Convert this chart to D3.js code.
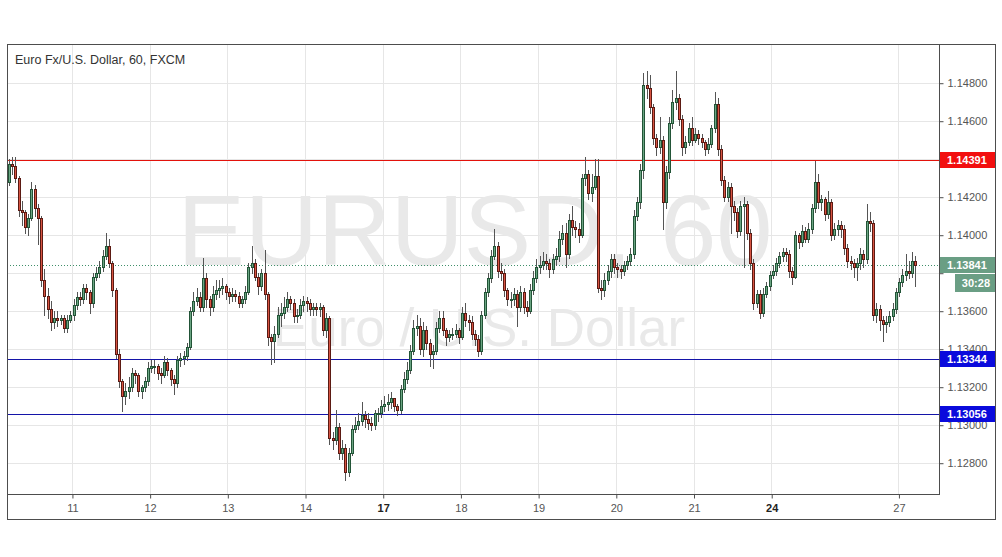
<!DOCTYPE html>
<html><head><meta charset="utf-8">
<script src="https://cdn.jsdelivr.net/npm/d3@7"></script>
<style>html,body{margin:0;padding:0;background:#fff;} svg{display:block;}</style>
</head><body>
<svg id="chart" width="1002" height="557"></svg>
<script>
// ---------------- DATA (prices in units of 0.0001) ----------------
const title = "Euro Fx/U.S. Dollar, 60, FXCM";
const watermarkSymbol = "EURUSD, 60";
const watermarkName = "Euro / U.S. Dollar";
const firstOpen = 11428;
const closes = [
11437,11436,11430,11413,11412,11404,11409,11424,11414,11409,
11376,11368,11361,11354,11356,11355,11356,11351,11355,11358,
11363,11367,11366,11372,11370,11364,11378,11380,11383,11389,
11394,11385,11371,11337,11323,11315,11318,11320,11327,11326,
11318,11320,11323,11330,11331,11331,11327,11326,11333,11329,
11324,11322,11334,11335,11336,11341,11360,11365,11367,11362,
11377,11366,11362,11369,11371,11372,11373,11370,11368,11369,
11368,11364,11366,11370,11383,11385,11378,11373,11380,11369,
11346,11344,11348,11358,11359,11362,11366,11364,11357,11358,
11363,11365,11364,11361,11362,11361,11362,11350,11356,11293,
11292,11299,11285,11288,11275,11285,11298,11300,11302,11305,
11303,11301,11300,11306,11306,11310,11311,11312,11314,11310,
11308,11319,11324,11329,11339,11351,11352,11340,11350,11343,
11337,11339,11351,11356,11350,11346,11348,11348,11350,11346,
11359,11355,11354,11348,11345,11339,11358,11370,11377,11389,
11394,11381,11380,11371,11366,11366,11369,11362,11370,11362,
11360,11371,11377,11383,11384,11386,11385,11382,11387,11389,
11398,11401,11390,11408,11404,11403,11400,11430,11432,11422,
11425,11431,11372,11371,11376,11381,11387,11383,11382,11381,
11384,11386,11390,11410,11417,11434,11479,11477,11467,11451,
11446,11450,11417,11433,11459,11470,11472,11461,11446,11449,
11456,11450,11453,11451,11449,11445,11448,11456,11469,11445,
11429,11420,11425,11415,11412,11402,11415,11416,11401,11385,
11364,11369,11359,11369,11373,11379,11381,11385,11389,11391,
11390,11381,11378,11400,11396,11402,11398,11403,11414,11428,
11417,11419,11411,11417,11400,11403,11405,11403,11393,11386,
11385,11383,11385,11390,11387,11407,11406,11358,11361,11355,
11353,11354,11357,11361,11370,11375,11379,11381,11380,11386,11384];
const highs = [
11440,11441,11441,11431,11418,11413,11411,11428,11426,11416,
11410,11382,11372,11365,11360,11360,11358,11358,11358,11360,
11366,11370,11370,11374,11374,11371,11380,11383,11386,11392,
11401,11398,11386,11372,11340,11324,11322,11325,11330,11329,
11327,11321,11325,11333,11334,11334,11332,11330,11336,11335,
11330,11326,11336,11338,11339,11343,11362,11370,11372,11370,
11388,11380,11368,11373,11376,11376,11377,11374,11372,11372,
11371,11370,11368,11373,11385,11394,11387,11380,11382,11392,
11370,11348,11352,11362,11364,11367,11370,11368,11366,11361,
11366,11368,11367,11366,11364,11364,11364,11363,11359,11357,
11296,11308,11301,11292,11290,11288,11300,11304,11306,11312,
11307,11306,11304,11308,11309,11313,11315,11316,11317,11314,
11311,11321,11328,11333,11342,11355,11358,11356,11354,11352,
11345,11342,11354,11360,11360,11351,11350,11351,11353,11351,
11362,11364,11358,11357,11350,11347,11360,11372,11380,11392,
11403,11396,11385,11382,11372,11370,11372,11371,11373,11372,
11365,11374,11381,11387,11389,11391,11390,11387,11390,11393,
11402,11405,11406,11411,11415,11407,11406,11432,11441,11434,
11432,11440,11440,11376,11380,11384,11390,11390,11385,11384,
11386,11389,11393,11413,11420,11437,11485,11486,11484,11469,
11453,11462,11452,11436,11462,11476,11486,11474,11463,11452,
11459,11462,11456,11455,11453,11450,11451,11458,11475,11472,
11447,11431,11428,11427,11418,11414,11418,11420,11418,11403,
11387,11371,11371,11372,11375,11381,11384,11388,11391,11393,
11393,11392,11383,11402,11401,11405,11404,11406,11416,11439,
11432,11421,11420,11423,11419,11406,11408,11407,11405,11395,
11389,11387,11388,11393,11392,11416,11412,11408,11364,11363,
11357,11357,11360,11364,11372,11377,11382,11390,11386,11391,11389];
const lows = [
11426,11432,11428,11410,11405,11401,11400,11408,11410,11395,
11373,11358,11356,11350,11351,11352,11353,11349,11349,11354,
11355,11361,11363,11364,11366,11359,11362,11376,11378,11381,
11387,11383,11368,11335,11320,11307,11311,11314,11318,11322,
11315,11314,11318,11321,11328,11327,11324,11322,11325,11326,
11321,11316,11320,11331,11332,11334,11340,11358,11363,11360,
11360,11362,11358,11360,11366,11367,11369,11366,11364,11365,
11365,11362,11362,11364,11369,11380,11376,11369,11371,11366,
11342,11332,11333,11346,11352,11356,11360,11361,11354,11354,
11356,11360,11360,11358,11358,11358,11357,11347,11346,11290,
11287,11290,11282,11282,11271,11273,11284,11296,11298,11300,
11299,11298,11297,11298,11302,11304,11307,11308,11309,11307,
11305,11306,11317,11322,11327,11337,11347,11337,11336,11340,
11331,11330,11337,11349,11347,11342,11344,11345,11346,11343,
11345,11352,11350,11345,11342,11336,11337,11356,11368,11375,
11387,11378,11376,11368,11363,11362,11363,11352,11360,11359,
11357,11359,11369,11375,11380,11382,11382,11378,11380,11384,
11386,11395,11383,11388,11400,11399,11396,11399,11426,11419,
11418,11424,11370,11366,11368,11374,11378,11380,11378,11377,
11379,11382,11384,11388,11408,11414,11430,11472,11464,11448,
11442,11443,11403,11414,11430,11456,11466,11458,11442,11443,
11447,11447,11449,11448,11446,11442,11443,11446,11454,11442,
11426,11418,11418,11401,11408,11399,11400,11383,11398,11382,
11361,11362,11356,11357,11367,11371,11377,11379,11383,11386,
11386,11378,11374,11377,11393,11394,11396,11396,11401,11412,
11414,11413,11408,11409,11397,11398,11400,11399,11390,11383,
11382,11378,11376,11382,11383,11385,11402,11355,11354,11350,
11344,11349,11352,11355,11359,11368,11373,11376,11377,11378,11373];
const priceTicks = [1.128, 1.130, 1.132, 1.134, 1.136, 1.138, 1.140, 1.142, 1.144, 1.146, 1.148];
const dayLabels = ["11","12","13","14","17","18","19","20","21","24","27"];
const dayStartIndex = [19.5, 43.5, 67.5, 91.5, 115.5, 139.5, 163.5, 187.5, 211.5, 235.5, 274.8];
const weekStartLabels = ["17","24"];
const resistance = 1.14391;
const supports = [1.13344, 1.13056];
const lastPrice = 1.13841;
const countdown = "30:28";

// ---------------- BUILD ----------------
const PIP = 1e-4;
const candles = closes.map((c, i) => {
  const o = i === 0 ? firstOpen : closes[i - 1];
  return { i, o: o * PIP, c: c * PIP, h: Math.max(highs[i], o, c) * PIP, l: Math.min(lows[i], o, c) * PIP };
});

const plot = { left: 7, top: 44, right: 939, bottom: 494 };
const outer = { right: 995, bottom: 519 };

const x = d3.scaleLinear().domain([-0.556, 287.33]).range([plot.left, plot.right]);
const y = d3.scaleLinear().domain([1.126353, 1.150037]).range([plot.bottom, plot.top]);

const svg = d3.select("#chart");
const font = "'Liberation Sans', Arial, sans-serif";

svg.append("defs").append("clipPath").attr("id", "plotClip")
  .append("rect").attr("x", plot.left).attr("y", plot.top)
  .attr("width", plot.right - plot.left).attr("height", plot.bottom - plot.top);

// grid
const grid = svg.append("g");
grid.selectAll("line.h").data(priceTicks).join("line")
  .attr("x1", plot.left).attr("x2", plot.right)
  .attr("y1", d => Math.round(y(d)) + 0.5).attr("y2", d => Math.round(y(d)) + 0.5)
  .attr("stroke", "#e6e6e6").attr("stroke-width", 1);
grid.selectAll("line.v").data(dayStartIndex).join("line")
  .attr("x1", d => Math.round(x(d)) + 0.5).attr("x2", d => Math.round(x(d)) + 0.5)
  .attr("y1", plot.top).attr("y2", plot.bottom)
  .attr("stroke", "#e6e6e6").attr("stroke-width", 1);

// watermark
const cx = (plot.left + plot.right) / 2 + 2;
svg.append("text").attr("x", cx).attr("y", 265).attr("text-anchor", "middle")
  .attr("font-family", font).attr("font-size", 101).attr("fill", "#e9e9e9")
  .text(watermarkSymbol);
svg.append("text").attr("x", cx + 4).attr("y", 346).attr("text-anchor", "middle")
  .attr("font-family", font).attr("font-size", 53).attr("fill", "#e9e9e9")
  .text(watermarkName);

// horizontal levels
const levels = svg.append("g").attr("clip-path", "url(#plotClip)");
levels.append("line")
  .attr("x1", plot.left).attr("x2", plot.right)
  .attr("y1", Math.round(y(resistance)) + 0.5).attr("y2", Math.round(y(resistance)) + 0.5)
  .attr("stroke", "#e3120b").attr("stroke-width", 1);
levels.selectAll("line.s").data(supports).join("line")
  .attr("x1", plot.left).attr("x2", plot.right)
  .attr("y1", d => Math.round(y(d)) + 0.5).attr("y2", d => Math.round(y(d)) + 0.5)
  .attr("stroke", "#1414a8").attr("stroke-width", 1);
levels.append("line")
  .attr("x1", plot.left).attr("x2", plot.right)
  .attr("y1", Math.round(y(lastPrice)) + 0.5).attr("y2", Math.round(y(lastPrice)) + 0.5)
  .attr("stroke", "#3f8f6a").attr("stroke-width", 1).attr("stroke-dasharray", "1,2");

// candles
const cg = svg.append("g").attr("clip-path", "url(#plotClip)");
const upFill = "#6ba583", upBorder = "#225437", dnFill = "#d75442", dnBorder = "#5b1a13", wickCol = "#555";
const cs = cg.selectAll("g.c").data(candles).join("g");
cs.append("line")
  .attr("x1", d => Math.round(x(d.i)) + 0.5).attr("x2", d => Math.round(x(d.i)) + 0.5)
  .attr("y1", d => Math.round(y(d.h))).attr("y2", d => Math.round(y(d.l)) + 1)
  .attr("stroke", wickCol).attr("stroke-width", 1);
cs.each(function(d) {
  const g = d3.select(this);
  const up = d.c >= d.o;
  const top = Math.round(y(Math.max(d.o, d.c)));
  const bot = Math.round(y(Math.min(d.o, d.c)));
  const h = Math.max(2, bot - top + 1);
  const px = Math.round(x(d.i)) - 1;
  g.append("rect").attr("x", px).attr("y", top).attr("width", 3).attr("height", h)
    .attr("fill", up ? upBorder : dnBorder);
  if (h > 2) g.append("rect").attr("x", px + 1).attr("y", top + 1).attr("width", 1).attr("height", h - 2)
    .attr("fill", up ? upFill : dnFill);
});

// frame
const frame = svg.append("g").attr("fill", "none").attr("stroke", "#4d4d4d").attr("stroke-width", 1);
frame.append("rect").attr("x", plot.left + 0.5).attr("y", plot.top + 0.5)
  .attr("width", outer.right - plot.left).attr("height", outer.bottom - plot.top);
frame.append("line").attr("x1", plot.left).attr("x2", plot.right + 1)
  .attr("y1", plot.bottom + 0.5).attr("y2", plot.bottom + 0.5);
frame.append("line").attr("x1", plot.right + 0.5).attr("x2", plot.right + 0.5)
  .attr("y1", plot.top).attr("y2", plot.bottom + 1);

// right axis (labels fully covered by a price box are not drawn, as in the reference)
const boxLevels = [resistance, lastPrice, ...supports];
const covered = v => boxLevels.some(b => Math.abs(y(b) - y(v)) < 9);
const yAxis = d3.axisRight(y).tickValues(priceTicks).tickSize(4).tickPadding(4)
  .tickFormat(d => covered(d) ? "" : d3.format(".5f")(d));
const ya = svg.append("g").attr("transform", `translate(${plot.right + 0.5},0.5)`).call(yAxis);
ya.select(".domain").remove();
ya.selectAll("line").attr("stroke", "#4d4d4d");
ya.selectAll("text").attr("font-family", font).attr("font-size", 11).attr("fill", "#555");

// bottom axis
const xAxis = d3.axisBottom(x).tickValues(dayStartIndex).tickSize(4).tickPadding(6)
  .tickFormat((d, i) => dayLabels[i]);
const xa = svg.append("g").attr("transform", `translate(0.5,${plot.bottom + 0.5})`).call(xAxis);
xa.select(".domain").remove();
xa.selectAll("line").attr("stroke", "#4d4d4d");
xa.selectAll("text").attr("font-family", font).attr("font-size", 11)
  .attr("fill", (d, i) => weekStartLabels.includes(dayLabels[i]) ? "#222" : "#555")
  .attr("font-weight", (d, i) => weekStartLabels.includes(dayLabels[i]) ? "bold" : "normal");

// title
svg.append("text").attr("x", 15).attr("y", 64).attr("font-family", font)
  .attr("font-size", 12.5).attr("fill", "#333").text(title);

// price boxes
function box(v, fill, label) {
  const cy = Math.round(y(v));
  svg.append("rect").attr("x", plot.right + 1).attr("y", cy - 8).attr("width", outer.right - plot.right - 1)
    .attr("height", 16).attr("fill", fill);
  svg.append("text").attr("x", plot.right + 8).attr("y", cy + 4).attr("font-family", font)
    .attr("font-size", 11).attr("font-weight", "bold").attr("fill", "#fff").text(label);
}
box(resistance, "#f20f0f", d3.format(".5f")(resistance));
supports.forEach(s => box(s, "#0a0adc", d3.format(".5f")(s)));
box(lastPrice, "#6a9e84", d3.format(".5f")(lastPrice));
const ly = Math.round(y(lastPrice));
svg.append("rect").attr("x", 955).attr("y", ly + 9).attr("width", outer.right - 955).attr("height", 18)
  .attr("fill", "#6a9e84");
svg.append("text").attr("x", outer.right - 5).attr("y", ly + 22).attr("text-anchor", "end")
  .attr("font-family", font).attr("font-size", 11).attr("font-weight", "bold").attr("fill", "#fff").text(countdown);
</script>
</body></html>
